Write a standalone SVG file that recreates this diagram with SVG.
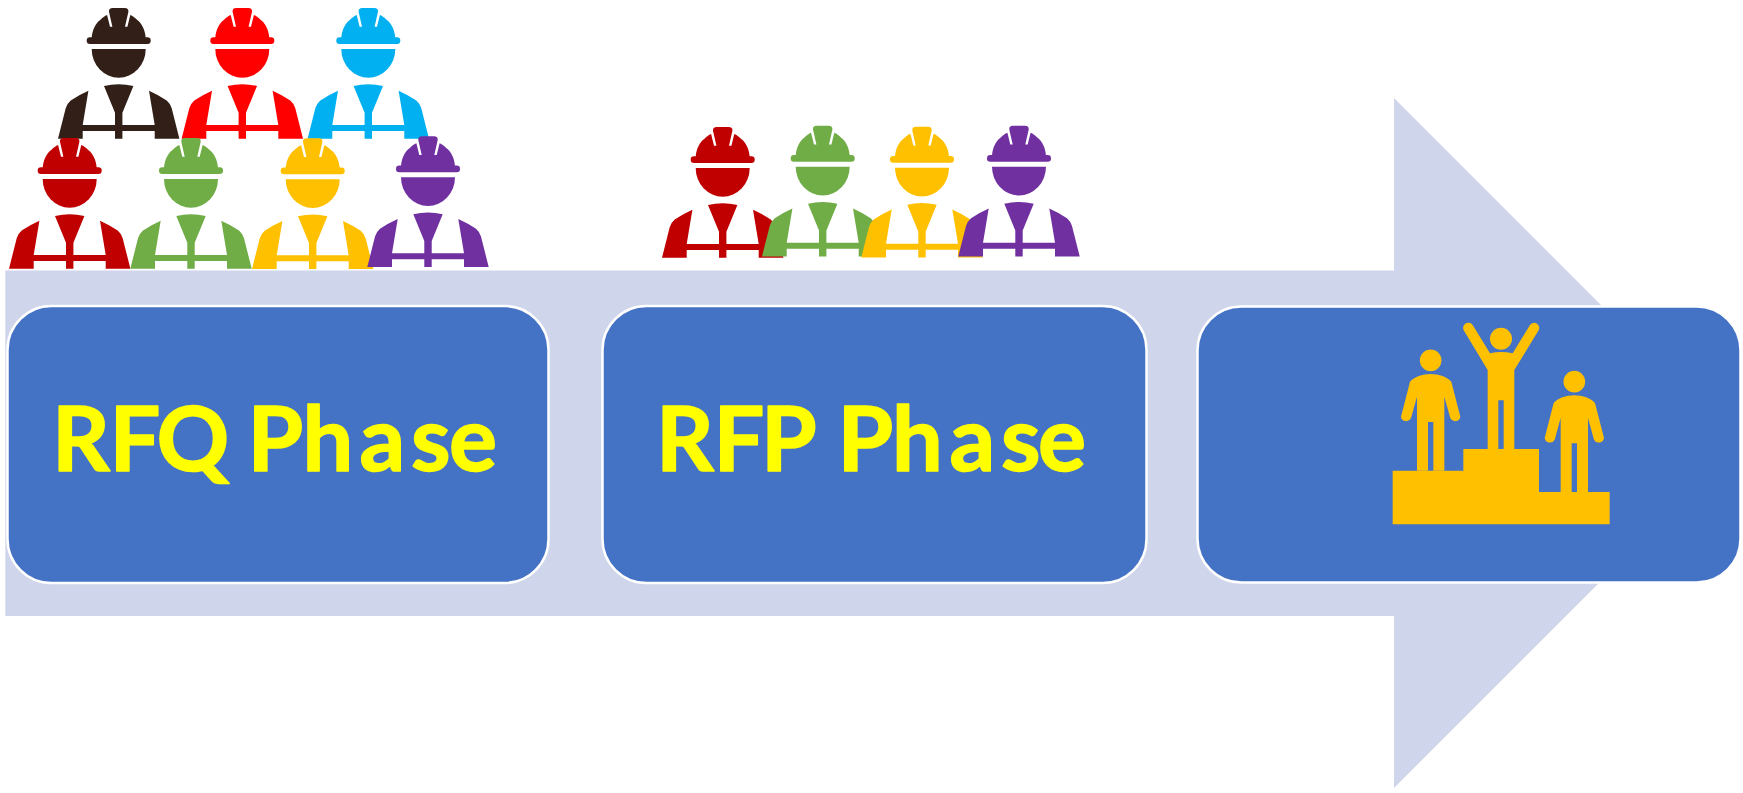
<svg xmlns="http://www.w3.org/2000/svg" width="1743" height="793" viewBox="0 0 1743 793">
<style>
.box{fill:#4472C4;stroke:#fff;stroke-width:2.5}
.lbl{font-family:"Lato","Liberation Sans",sans-serif;font-weight:700;font-size:90px;fill:#FFFF00;stroke:#FFFF00;stroke-width:1.5;stroke-linejoin:round}
.pod{fill:#FFC000}
</style>
<defs>
<g id="worker">
<rect x="-32" y="29.3" width="64" height="6.7" rx="3.3"/>
<path d="M-27,30C-26.5,22 -23,15 -18.5,12C-16,9.5 -14,8 -11.6,7L-8.7,18.7H-6.3L-9.7,3.7Q-10,0 -6,0H6Q10,0 9.7,3.7L6.3,18.7H8.7L11.6,7C14,8 16,9.5 18.5,12C23,15 26.5,22 27,30Z"/>
<path d="M-27,41H27A27,28.7 0 0 1 -27,41Z"/>
<path d="M-14.7,78Q0,74.5 14.7,78L3.7,104.7V117H37V123H3.7V130.7H-3.7V123H-37V117H-3.7V104.7Z"/>
<path d="M-30.3,82.7L-36,117V130.7H-60.7L-53,100.3Q-52,96 -48,92.5Q-40,87 -30.3,82.7Z"/>
<path d="M30.3,82.7L36,117V130.7H60.7L53,100.3Q52,96 48,92.5Q40,87 30.3,82.7Z"/>
</g>
<g id="person">
<circle cx="0" cy="-41" r="32.5"/>
<path d="M0,0C-25,0 -50,9 -62,23L-89,128A16,16 0 0 0 -59,133L-41,68V290H-8V144H8V290H41V68L59,133A16,16 0 0 0 89,128L62,23C50,9 25,0 0,0Z"/>
</g>
</defs>
<g id="arrow"><path d="M5.3,270.5H1394V98L1739,443L1394,788V616H5.3Z" fill="#CFD5EA"/></g>
<g id="worker-brown"><use href="#worker" transform="translate(118.7 8)" fill="#321F17"/></g>
<g id="worker-red"><use href="#worker" transform="translate(242.3 8)" fill="#FF0000"/></g>
<g id="worker-blue"><use href="#worker" transform="translate(368.3 8)" fill="#00B0F0"/></g>
<g id="worker-darkred-1"><use href="#worker" transform="translate(69.7 138)" fill="#C00000"/></g>
<g id="worker-green-1"><use href="#worker" transform="translate(191 138)" fill="#70AD47"/></g>
<g id="worker-yellow-1"><use href="#worker" transform="translate(312.7 138.3)" fill="#FFC000"/></g>
<g id="worker-purple-1"><use href="#worker" transform="translate(428 136.3)" fill="#7030A0"/></g>
<g id="worker-darkred-2"><use href="#worker" transform="translate(722.7 127)" fill="#C00000"/></g>
<g id="worker-green-2"><use href="#worker" transform="translate(822.7 125.7)" fill="#70AD47"/></g>
<g id="worker-yellow-2"><use href="#worker" transform="translate(922 126.7)" fill="#FFC000"/></g>
<g id="worker-purple-2"><use href="#worker" transform="translate(1019 125.7)" fill="#7030A0"/></g>
<g id="rfq"><rect class="box" x="7.5" y="306" width="541" height="277" rx="44"/><text class="lbl" x="52 109.5 156.5 225 247.5 302.5 359.5 411 449" y="470.5">RFQ Phase</text></g>
<g id="rfp"><rect class="box" x="602.5" y="306" width="544" height="277" rx="44"/><text class="lbl" x="656 713.5 761 825 837.5 892 949.5 1001 1038" y="470.5">RFP Phase</text></g>
<g id="award"><rect class="box" x="1197.5" y="306.5" width="543" height="276" rx="44"/>
<g transform="translate(1370 290) scale(.33333)" class="pod">
<path d="M68,542H280V477H507V606H719V703H68Z"/>
<use href="#person" transform="translate(182 252)"/>
<use href="#person" transform="translate(613 316)"/>
<circle cx="393" cy="146" r="33"/>
<path d="M353,477V240L282,122A15,15 0 0 1 308,105L360,190Q393,182 428,190L480,105A15,15 0 0 1 505,122L433,240V477H401V331H385V477Z"/>
</g></g>
</svg>
